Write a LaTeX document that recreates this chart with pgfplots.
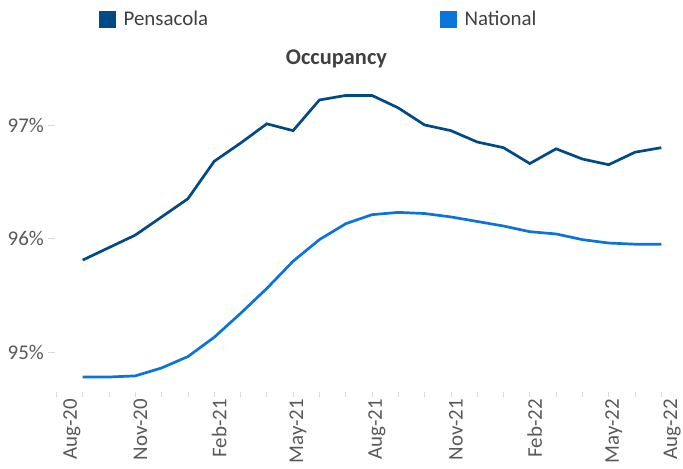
\documentclass[border=0pt]{standalone}
\usepackage{pgfplots}
\pgfplotsset{compat=1.18}
\usepackage{fontspec}
\setmainfont{Carlito}
\definecolor{pens}{HTML}{004A86}
\definecolor{nat}{HTML}{0A74DA}
\definecolor{txt}{HTML}{595959}
\definecolor{ttl}{HTML}{404040}
\begin{document}
\begin{tikzpicture}
\begin{axis}[
 scale only axis, width=624.6bp, height=307bp,
 xmin=-1.05, xmax=22.7, ymin=94.648, ymax=97.352,
 clip=false,
 axis line style={draw=none},
 xtick={-0.6,2,5,8,11,14,17,20,22.22},
 xticklabels={Aug-20,Nov-20,Feb-21,May-21,Aug-21,Nov-21,Feb-22,May-22,Aug-22},
 minor xtick={-1,0,...,22},
 xtick pos=bottom, ytick pos=left,
 tick align=outside,
 major x tick style={draw=none},
 minor x tick style={draw=black!15, line width=0.8bp},
 minor tick length=5bp,
 ytick={95,96,97},
 yticklabels={95\%,96\%,97\%},
 major y tick style={draw=black!15, line width=0.8bp},
 major tick length=7bp,
 xticklabel style={rotate=90, anchor=east, inner sep=0pt, yshift=-5bp, font=\fontsize{21}{21}\selectfont, text=txt},
 yticklabel style={anchor=east, inner sep=0pt, xshift=-4bp, font=\fontsize{21}{21}\selectfont, text=txt},
 title={\textbf{Occupancy}},
 title style={at={(0.4505,1.0651)}, anchor=center, inner sep=0pt, font=\fontsize{22.5}{22.5}\selectfont, text=ttl},
 legend columns=2,
 legend style={at={(0.0703,1.215)}, anchor=west, draw=none, fill=none, inner sep=0pt,
   nodes={inner sep=0pt, text=ttl, font=\fontsize{21}{21}\selectfont},
   /tikz/every even column/.append style={column sep=232bp},
   /tikz/every odd column/.append style={column sep=8bp}},
]
\addplot[pens, line width=2.7bp, forget plot] coordinates {
(0,95.81) (1,95.92) (2,96.03) (3,96.19) (4,96.35) (5,96.68) (6,96.84) (7,97.01)
(8,96.95) (9,97.22) (10,97.26) (11,97.26) (12,97.15) (13,97.00) (14,96.95) (15,96.85)
(16,96.80) (17,96.66) (18,96.79) (19,96.70) (20,96.65) (21,96.76) (22,96.80)};
\addplot[nat, line width=2.7bp, forget plot] coordinates {
(0,94.78) (1,94.78) (2,94.79) (3,94.86) (4,94.96) (5,95.13) (6,95.34) (7,95.56)
(8,95.80) (9,95.99) (10,96.13) (11,96.21) (12,96.23) (13,96.22) (14,96.19) (15,96.15)
(16,96.11) (17,96.06) (18,96.04) (19,95.99) (20,95.96) (21,95.95) (22,95.95)};
\addlegendimage{legend image code/.code={\fill[pens] (0bp,-8bp) rectangle (16bp,8bp);}}
\addlegendentry{Pensacola}
\addlegendimage{legend image code/.code={\fill[nat] (0bp,-8bp) rectangle (16bp,8bp);}}
\addlegendentry{National}
\end{axis}
\pgfresetboundingbox
\path[use as bounding box] (-55.1bp,-77bp) rectangle (627.9bp,392bp);
\end{tikzpicture}
\end{document}
